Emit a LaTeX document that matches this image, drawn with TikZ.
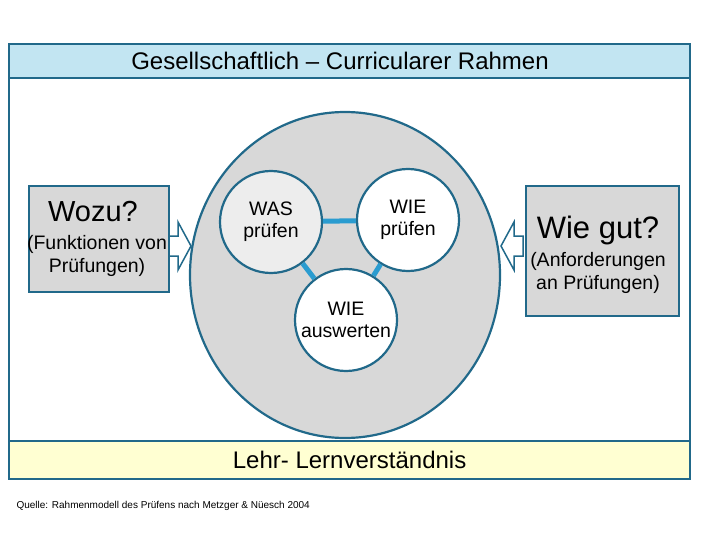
\documentclass[tikz,border=0pt]{standalone}
\usepackage{fontspec}
\setmainfont{Liberation Sans}
\usetikzlibrary{shapes.geometric}
\definecolor{teal1}{HTML}{21698A}
\definecolor{lblue}{HTML}{C2E5F2}
\definecolor{lyel}{HTML}{FFFFD2}
\definecolor{gr}{HTML}{D8D8D8}
\definecolor{link}{HTML}{2A9CD0}
\begin{document}
\begin{tikzpicture}[x=1pt,y=-1pt,
  frame/.style={draw=teal1,line width=2.2pt},
  small/.style={circle,frame,minimum size=102pt,inner sep=0pt,align=center,font=\fontsize{19.5}{22}\selectfont},
  link/.style={draw=link,line width=5pt},
  barr/.style={draw=teal1,line width=1.5pt,fill=white}]
\useasboundingbox (0,0) rectangle (720,540);
\node[frame,fill=white,minimum width=681pt,minimum height=435pt,anchor=north west,inner sep=0pt] (outer) at (8,43) {};
\node[frame,fill=lblue,minimum width=681pt,minimum height=34pt,anchor=north west,inner sep=0pt] (title) at (8,43) {};
\node[font=\fontsize{24}{26}\selectfont] (tt) at (340,61) {Gesellschaftlich -- Curricularer Rahmen};
\node[ellipse,frame,fill=gr,minimum width=310pt,minimum height=326pt,inner sep=0pt] (big) at (345,275) {};
\node[frame,fill=lyel,minimum width=681pt,minimum height=38pt,anchor=north west,inner sep=0pt,font=\fontsize{24}{26}\selectfont] (bottom) at (8,440) {Lehr- Lernverständnis};
\node[small,fill=gr!45] (was) at (271,222) {WAS\\prüfen};
\node[small,fill=white] (wie) at (408,220) {WIE\\prüfen};
\node[small,fill=white] (aus) at (346,320) {WIE\\auswerten};
\draw[link] (was) -- (wie);
\draw[link] (was) -- (aus);
\draw[link] (wie) -- (aus);
\node[frame,fill=gr,minimum width=140pt,minimum height=106pt,anchor=north west,inner sep=0pt] (left) at (28,185) {};
\node[font=\fontsize{29}{32}\selectfont] (wozu) at (93,212) {Wozu?};
\node[align=center,font=\fontsize{19.5}{23}\selectfont] (funk) at (97,256) {(Funktionen von\\Prüfungen)};
\node[frame,fill=gr,minimum width=153pt,minimum height=130pt,anchor=north west,inner sep=0pt] (right) at (525,185) {};
\node[font=\fontsize{31}{34}\selectfont] (wg) at (598,230) {Wie gut?};
\node[align=center,font=\fontsize{19.5}{23}\selectfont] (anf) at (598,273) {(Anforderungen\\an Prüfungen)};
\draw[barr] (169,236) -- (178,236) -- (178,222) -- (191,246) -- (178,270) -- (178,256) -- (169,256) -- cycle;
\draw[barr] (523,236) -- (514,236) -- (514,222) -- (501,246) -- (514,270) -- (514,256) -- (523,256) -- cycle;
\node[anchor=west,font=\fontsize{10}{11}\selectfont] (q) at (13,506) {Quelle: Rahmenmodell des Prüfens nach Metzger \& Nüesch 2004};
\end{tikzpicture}
\end{document}
